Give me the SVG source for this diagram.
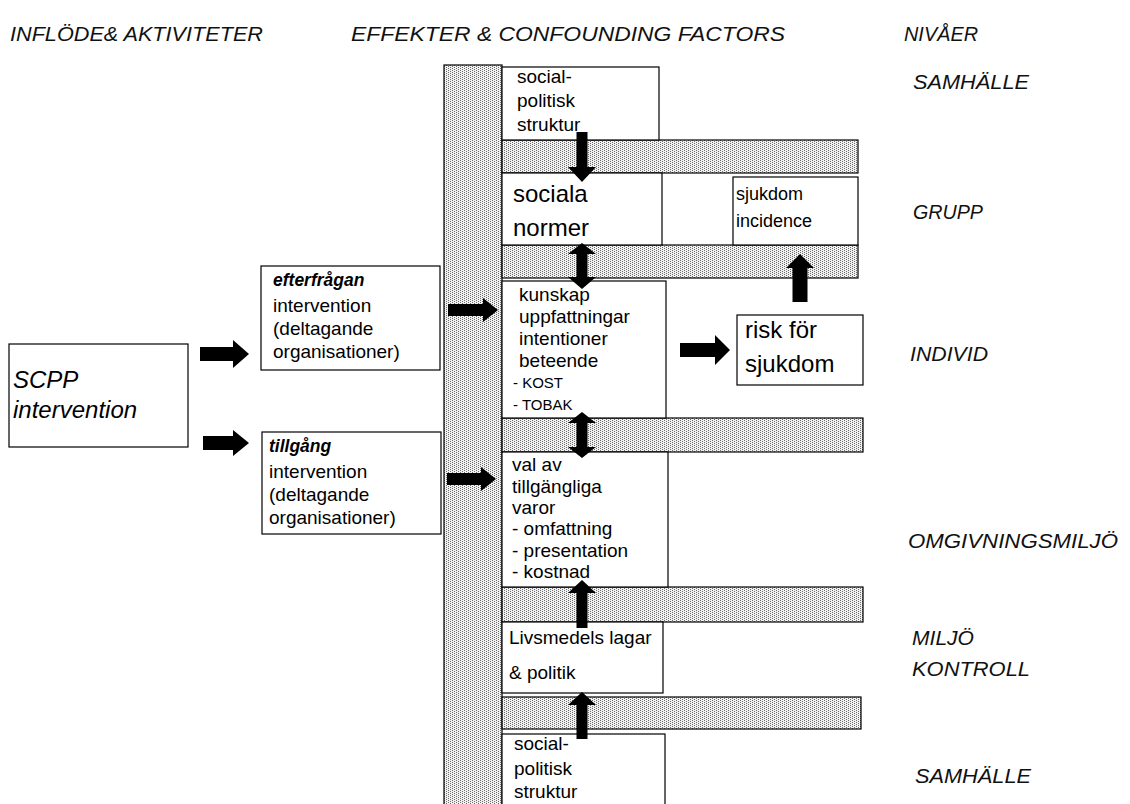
<svg xmlns="http://www.w3.org/2000/svg" width="1130" height="804" viewBox="0 0 1130 804">
<defs>
<pattern id="dots" width="4" height="2" patternUnits="userSpaceOnUse">
<rect width="4" height="2" fill="#f2f2f2"/>
<rect x="0" y="0" width="1" height="1" fill="#6a6a6a"/>
<rect x="2" y="1" width="1" height="1" fill="#6a6a6a"/>
</pattern>
<style>
.box{fill:#fff;stroke:#000;stroke-width:1.2}
.band{fill:url(#dots);stroke:#000;stroke-width:1.2}
.arr{fill:#000;stroke:none}
.t{font-family:"Liberation Sans",Arial,sans-serif;font-size:19px;fill:#000}
.big{font-size:24px}
.sm{font-size:15px}
.hd{font-family:"Liberation Sans",Arial,sans-serif;font-size:21px;font-style:italic;fill:#111}
.lv{font-family:"Liberation Sans",Arial,sans-serif;font-size:21px;font-style:italic;fill:#111}
</style>
</defs>
<rect width="1130" height="804" fill="#fff"/>

<g id="headers">
<text class="hd" x="10" y="41" textLength="253" lengthAdjust="spacingAndGlyphs">INFLÖDE&amp; AKTIVITETER</text>
<text class="hd" x="351" y="41" textLength="434" lengthAdjust="spacingAndGlyphs">EFFEKTER &amp; CONFOUNDING FACTORS</text>
<text class="hd" x="904" y="41" textLength="74" lengthAdjust="spacingAndGlyphs">NIVÅER</text>
</g>

<g id="bands">
<rect class="band" x="444" y="65" width="58" height="745"/>
<rect class="band" x="502" y="140" width="356" height="33"/>
<rect class="band" x="502" y="245" width="356" height="33"/>
<rect class="band" x="502" y="418" width="361" height="34"/>
<rect class="band" x="502" y="587" width="361" height="35"/>
<rect class="band" x="502" y="697" width="359" height="32"/>
</g>

<g id="scpp">
<rect class="box" x="9" y="344" width="179" height="103"/>
<text class="t" x="13" y="388" style="font-size:24px;font-style:italic">SCPP</text>
<text class="t" x="13" y="418" style="font-size:24px;font-style:italic">intervention</text>
</g>

<g id="efterfragan">
<rect class="box" x="261" y="266" width="179" height="104"/>
<text class="t" x="273" y="286" style="font-weight:bold;font-style:italic;font-size:17.5px">efterfrågan</text>
<text class="t" x="273" y="312">intervention</text>
<text class="t" x="273" y="335">(deltagande</text>
<text class="t" x="273" y="358">organisationer)</text>
</g>

<g id="tillgang">
<rect class="box" x="262" y="432" width="179" height="102"/>
<text class="t" x="269" y="452" style="font-weight:bold;font-style:italic;font-size:17.5px">tillgång</text>
<text class="t" x="269" y="478">intervention</text>
<text class="t" x="269" y="501">(deltagande</text>
<text class="t" x="269" y="524">organisationer)</text>
</g>

<g id="social-top">
<rect class="box" x="502" y="67" width="157" height="73"/>
<text class="t" x="517" y="83">social-</text>
<text class="t" x="517" y="107">politisk</text>
<text class="t" x="517" y="131">struktur</text>
</g>

<g id="sociala-normer">
<rect class="box" x="502" y="173" width="160" height="72"/>
<text class="t big" x="513" y="202">sociala</text>
<text class="t big" x="513" y="236">normer</text>
</g>

<g id="sjukdom-incidence">
<rect class="box" x="733" y="177" width="125" height="68"/>
<text class="t" x="736" y="200" style="font-size:18px">sjukdom</text>
<text class="t" x="736" y="227" style="font-size:18px">incidence</text>
</g>

<g id="kunskap">
<rect class="box" x="502" y="281" width="164" height="137"/>
<text class="t" x="519" y="301">kunskap</text>
<text class="t" x="519" y="323">uppfattningar</text>
<text class="t" x="519" y="345">intentioner</text>
<text class="t" x="519" y="367">beteende</text>
<text class="t sm" x="513" y="388">- KOST</text>
<text class="t sm" x="513" y="410">- TOBAK</text>
</g>

<g id="risk">
<rect class="box" x="737" y="315" width="126" height="70"/>
<text class="t" x="745" y="338" style="font-size:24px">risk för</text>
<text class="t" x="745" y="372" style="font-size:24px">sjukdom</text>
</g>

<g id="val">
<rect class="box" x="502" y="452" width="166" height="135"/>
<text class="t" x="512" y="471">val av</text>
<text class="t" x="512" y="493">tillgängliga</text>
<text class="t" x="512" y="514">varor</text>
<text class="t" x="512" y="535">- omfattning</text>
<text class="t" x="512" y="557">- presentation</text>
<text class="t" x="512" y="578">- kostnad</text>
</g>

<g id="livsmedel">
<rect class="box" x="502" y="622" width="161" height="71"/>
<text class="t" x="509" y="644">Livsmedels lagar</text>
<text class="t" x="509" y="679">&amp; politik</text>
</g>

<g id="social-bottom">
<rect class="box" x="502" y="734" width="163" height="75"/>
<text class="t" x="514" y="750">social-</text>
<text class="t" x="514" y="775">politisk</text>
<text class="t" x="514" y="798">struktur</text>
</g>

<g id="levels">
<text class="lv" x="913" y="89" textLength="116" lengthAdjust="spacingAndGlyphs">SAMHÄLLE</text>
<text class="lv" x="913" y="219" textLength="70" lengthAdjust="spacingAndGlyphs">GRUPP</text>
<text class="lv" x="910" y="361" textLength="78" lengthAdjust="spacingAndGlyphs">INDIVID</text>
<text class="lv" x="908" y="548" textLength="210" lengthAdjust="spacingAndGlyphs">OMGIVNINGSMILJÖ</text>
<text class="lv" x="912" y="645" textLength="62" lengthAdjust="spacingAndGlyphs">MILJÖ</text>
<text class="lv" x="912" y="676" textLength="118" lengthAdjust="spacingAndGlyphs">KONTROLL</text>
<text class="lv" x="915" y="783" textLength="116" lengthAdjust="spacingAndGlyphs">SAMHÄLLE</text>
</g>

<g id="connectors">
<polygon class="arr" points="200,347 233,347 233,340 249,354 233,368 233,361 200,361"/>
<polygon class="arr" points="203,436 233,436 233,430 249,443 233,456 233,450 203,450"/>
<polygon class="arr" points="448,304 483,304 483,298 498,310 483,322 483,316 448,316"/>
<polygon class="arr" points="447,473 481,473 481,467 496,479 481,491 481,485 447,485"/>
<polygon class="arr" points="680,343 715,343 715,335 730,350 715,365 715,357 680,357"/>
<polygon class="arr" points="792.5,302 792.5,268 786,268 800,254 814,268 807.5,268 807.5,302"/>
<polygon class="arr" points="576.5,132 587.5,132 587.5,167 596,167 582,182 568,167 576.5,167"/>
<polygon class="arr" points="582,243 596,254 587.5,254 587.5,277 596,277 582,289 568,277 576.5,277 576.5,254 568,254"/>
<polygon class="arr" points="582,412 596,423 587.5,423 587.5,447 596,447 582,458 568,447 576.5,447 576.5,423 568,423"/>
<polygon class="arr" points="582,580 596,593 587.5,593 587.5,628 576.5,628 576.5,593 568,593"/>
<polygon class="arr" points="582,692 596,705 587.5,705 587.5,739 576.5,739 576.5,705 568,705"/>
</g>
</svg>
